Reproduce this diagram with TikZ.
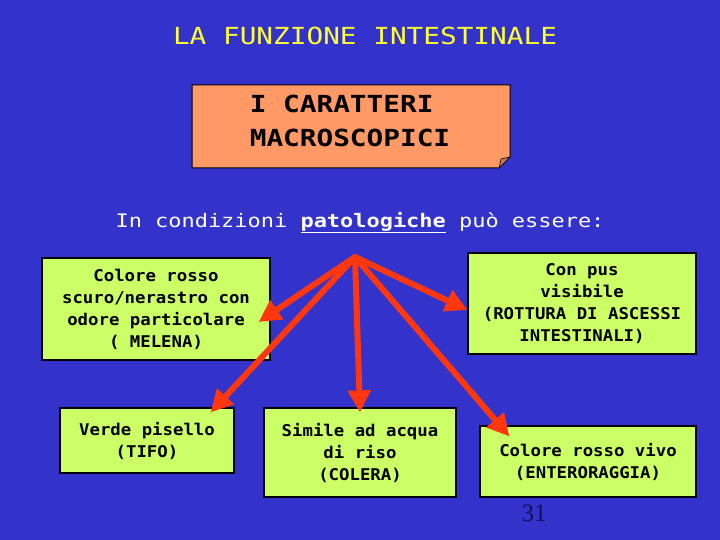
\documentclass[tikz,border=0pt]{standalone}
\usepackage{fontspec}
\usepackage{tikz}
\usetikzlibrary{arrows.meta}
\setmainfont{Liberation Serif}
\newfontfamily\slidefont[FakeStretch=1.18]{DejaVu Sans Mono}
\newfontfamily\boxfont[FakeStretch=1.07]{DejaVu Sans Mono}

\begin{document}
\begin{tikzpicture}
			[x=1pt,y=-1pt,line cap=round,
			%Styles
			title text/.style={anchor=base,text=titleyellow,font=\slidefont\fontsize{23.5}{28}\selectfont},
			sub text/.style={anchor=base,text=white,font=\slidefont\fontsize{18.6}{22}\selectfont},
			note paper/.style={draw=black,line width=1pt,fill=noteorange},
			note fold/.style={draw=black,line width=0.6pt,fill=foldorange},
			note text/.style={align=left,font=\slidefont\bfseries\fontsize{23.5}{34}\selectfont},
			green box/.style={draw=black,line width=1.2pt,fill=boxgreen,inner sep=0pt,align=center,
				font=\boxfont\bfseries\fontsize{16.2}{22}\selectfont},
			red arrow/.style={draw=arrowred,line width=6pt,-{Triangle[length=22pt,width=22pt]}},
			page number/.style={anchor=base,text=numberblue,font=\fontsize{25}{30}\selectfont}
			]
			
			%Colors
			\definecolor{slideblue}{RGB}{51,51,204}
			\definecolor{titleyellow}{RGB}{255,255,51}
			\definecolor{noteorange}{RGB}{255,153,102}
			\definecolor{foldorange}{RGB}{204,122,82}
			\definecolor{boxgreen}{RGB}{204,255,102}
			\definecolor{arrowred}{RGB}{255,55,15}
			\definecolor{numberblue}{RGB}{15,15,90}
			
			%Background
			\fill[slideblue] (0,0) rectangle (720,540);
			
			%Titles
			\node[title text] (title) at (365,45) {LA FUNZIONE INTESTINALE};
			\filldraw[note paper] (192,85) -- (510,85) -- (510,157) -- (499,168) -- (192,168) -- cycle;
			\filldraw[note fold] (510,157) -- (501,159) -- (499,168) -- cycle;
			\node[note text] (caratteri) at (350,121) {I CARATTERI\\MACROSCOPICI};
			\node[sub text] (condizioni) at (360,227) {In condizioni \underline{\bfseries patologiche} può essere:};
			
			%The graphic
			\coordinate (hub) at (355,257);
			\node[green box,minimum width=228pt,minimum height=102pt] (melena) at (156,309)
				{Colore rosso\\scuro/nerastro con\\odore particolare\\( MELENA)};
			\node[green box,minimum width=228pt,minimum height=101pt] (pus) at (582,303.5)
				{Con pus\\visibile\\(ROTTURA DI ASCESSI\\INTESTINALI)};
			\node[green box,minimum width=174pt,minimum height=65pt] (tifo) at (147,440.5)
				{Verde pisello\\(TIFO)};
			\node[green box,minimum width=192pt,minimum height=89pt] (colera) at (360,452.5)
				{Simile ad acqua\\di riso\\(COLERA)};
			\node[green box,minimum width=216pt,minimum height=71pt] (enteroragia) at (588,461.5)
				{Colore rosso vivo\\(ENTERORAGGIA)};
			
			\draw[red arrow] (hub) -- ([xshift=-12pt,yshift=-13pt]melena.east);
			\draw[red arrow] (hub) -- ([yshift=-6.5pt]pus.west);
			\draw[red arrow] (hub) -- ([xshift=-24pt,yshift=-5pt]tifo.north east);
			\draw[red arrow] (hub) -- ([xshift=0pt,yshift=-5pt]colera.north);
			\draw[red arrow] (hub) -- ([xshift=30pt,yshift=-11pt]enteroragia.north west);
			
			\node[page number] (pagina) at (534,521) {31};
		\end{tikzpicture}
\end{document}
